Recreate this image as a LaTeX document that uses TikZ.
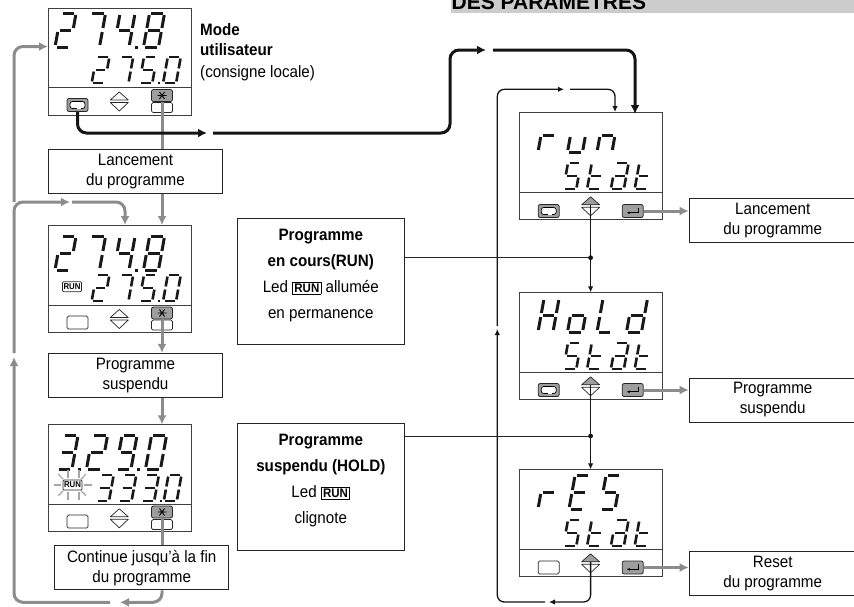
\documentclass[tikz,border=0pt]{standalone}
\usepackage{fontspec}
\setmainfont[FakeStretch=0.92]{Liberation Sans}
\newfontfamily\headfont{Liberation Sans}
\usetikzlibrary{arrows.meta,calc}

% ===== seven-segment glyphs =====
\def\segA{\draw (.12,2) -- (.88,2);}
\def\segB{\draw (1,1.88) -- (1,1.12);}
\def\segC{\draw (1,.88) -- (1,.12);}
\def\segD{\draw (.12,0) -- (.88,0);}
\def\segE{\draw (0,.12) -- (0,.88);}
\def\segF{\draw (0,1.12) -- (0,1.88);}
\def\segG{\draw (.12,1) -- (.88,1);}
\def\segP{\draw (1.42,0) -- (1.58,0);}
\newcommand{\defchr}[2]{\expandafter\def\csname lcdchr#1\endcsname{#2}}
\defchr{0}{A,B,C,D,E,F}
\defchr{2}{A,B,G,E,D}
\defchr{3}{A,B,G,C,D}
\defchr{3p}{A,B,G,C,D,P}
\defchr{4p}{F,G,B,C,P}
\defchr{5p}{A,F,G,C,D,P}
\defchr{7}{A,B,C}
\defchr{8}{A,B,C,D,E,F,G}
\defchr{9p}{A,B,C,D,F,G,P}
\defchr{r}{E,G}
\defchr{u}{E,D,C}
\defchr{n}{E,G,C}
\defchr{S}{A,F,G,C,D}
\defchr{t}{F,G,E,D}
\defchr{a}{A,B,G,E,C,D}
\defchr{H}{F,E,G,B,C}
\defchr{o}{G,C,D,E}
\defchr{L}{F,E,D}
\defchr{d}{B,C,D,E,G}
\defchr{E}{A,F,G,E,D}
% left, baseline, width, height, spacing, thickness, characters
\newcommand{\lcdrow}[7]{%
  \foreach \ch [count=\i from 0] in {#7}{%
    \begin{scope}[shift={(#1+\i*#5,#2)},x=1pt,y=1pt,xslant=.18,xscale=#3,yscale=#4/2,
        line width=#6pt,black!90]
      \edef\seglist{\csname lcdchr\ch\endcsname}
      \foreach \sg in \seglist {\csname seg\sg\endcsname}
    \end{scope}}}
% ===== panel body with separator and up/down keys =====
\newcommand{\lcdbody}[4]{%
  \node[lcd,anchor=north west] (#1) at (#2,#3) {};
  \draw[lcdline] ($(#1.north west)+(0,80)$) -- ($(#1.north east)+(0,80)$);
  \coordinate (#1up) at ($(#1.north west)+(71.3,92.5)$);
  \filldraw[tri,fill=#4] ($(#1up)+(-9,0)$) -- ($(#1up)+(0,-8)$) -- ($(#1up)+(9,0)$) -- cycle;
  \draw[tri] ($(#1up)+(-9,2.5)$) -- ($(#1up)+(0,11)$) -- ($(#1up)+(9,2.5)$) -- cycle;
}
\newcommand{\backglyph}[1]{\draw[glyph,fill=white,rounded corners=2.5pt] ($(#1.center)+(-7.5,-3.5)$) rectangle ($(#1.center)+(7.5,3.5)$);
  \draw[glyph,white,line width=1.5pt] ($(#1.center)+(-1,3.5)$) -- ($(#1.center)+(3,3.5)$);}
\newcommand{\enterglyph}[1]{\draw[glyph,->,>={Latex[length=3pt,width=3pt]}] ($(#1.center)+(6,-3.5)$) -- ($(#1.center)+(6,1.8)$) -- ($(#1.center)+(-6,1.8)$);}
\newcommand{\starglyph}[1]{\draw[glyph,line width=.9pt] ($(#1.center)+(-4.5,0)$) -- ($(#1.center)+(4.5,0)$)
  ($(#1.center)+(-2.5,-3.5)$) -- ($(#1.center)+(2.5,3.5)$) ($(#1.center)+(2.5,-3.5)$) -- ($(#1.center)+(-2.5,3.5)$);}
\newcommand{\ledrun}{{\fboxsep=1.2pt\fboxrule=.9pt\fbox{\bfseries\fontsize{12.5}{12}\selectfont RUN}}}

\begin{document}
\begin{tikzpicture}[x=1pt,y=-1pt,
    font=\fontsize{16.5}{20}\selectfont,
    lcd/.style={draw=black!75,line width=.9pt,minimum width=142.5pt,minimum height=107pt,inner sep=0pt},
    lcdline/.style={draw=black!75,line width=.8pt},
    tri/.style={draw=black!85,line width=.7pt,line join=round},
    keydark/.style={draw=black!85,fill=black!38,line width=.8pt,rounded corners=2pt,minimum width=21pt,minimum height=13pt,inner sep=0pt},
    keyslot/.style={draw=black!85,fill=white,line width=.7pt,rounded corners=1.5pt,minimum width=21pt,minimum height=10pt,inner sep=0pt},
    keywide/.style={keyslot,minimum height=13pt},
    glyph/.style={draw=black,line width=.7pt},
    prbox/.style={draw=black!85,line width=1pt,minimum width=174.5pt,minimum height=44pt,align=center,inner sep=0pt},
    infobox/.style={draw=black!85,line width=1pt,minimum width=167pt,inner sep=0pt},
    infotxt/.style={align=center,font=\fontsize{16.5}{25.8}\selectfont},
    greywire/.style={draw=black!45,line width=3pt,rounded corners=9pt,-{Latex[length=9pt,width=9pt]}},
    boldwire/.style={draw=black!92,line width=3pt,rounded corners=9pt,-{Latex[length=9pt,width=9pt]}},
    thinwire/.style={draw=black!92,line width=1.3pt,rounded corners=7pt,-{Latex[length=6pt,width=5.5pt]}},
    hairwire/.style={draw=black!85,line width=.7pt},
    ledtag/.style={draw=black!85,line width=.7pt,rounded corners=1pt,minimum width=19pt,minimum height=10pt,inner sep=0pt,font=\bfseries\fontsize{8.5}{8}\selectfont}]
\clip (0,0) rectangle (854,606);
\useasboundingbox (0,0) rectangle (854,606);
% ===== heading strip =====
\fill[black!20] (451,-5) rectangle (854,12.7);
\node[anchor=base west,inner sep=0pt,font=\headfont\bfseries\fontsize{21}{21}\selectfont] (headtxt) at (451.5,9.5) {DES PARAMETRES};
% ===== left column of panels =====
\lcdbody{dA}{48}{7.5}{white}
\lcdrow{55}{47}{15}{34}{29.5}{3}{2,7,4p,8}
\lcdrow{91.7}{83}{13}{26}{23.8}{2.6}{2,7,5p,0}
\node[keydark] (dAback) at (77.5,105) {};
\backglyph{dAback}
\node[keydark,minimum height=12pt] (dAstar) at (162,95.5) {};
\starglyph{dAstar}
\node[keyslot] (dAslot) at (162,107.5) {};
\lcdbody{dB}{48}{225}{white}
\lcdrow{55}{270}{15}{34}{29.5}{3}{2,7,4p,8}
\lcdrow{91.7}{301}{13}{26}{23.8}{2.6}{2,7,5p,0}
\node[ledtag] (dBled) at (72,286.7) {RUN};
\node[keywide] (dBback) at (77.5,322.5) {};
\node[keydark,minimum height=12pt] (dBstar) at (162,313) {};
\starglyph{dBstar}
\node[keyslot] (dBslot) at (162,325) {};
\lcdbody{dC}{48}{424.3}{white}
\lcdrow{57}{469}{15}{34}{29.5}{3}{3p,2,9p,0}
\lcdrow{96}{501}{13}{26}{22.6}{2.6}{3,3,3p,0}
\node[ledtag] (dCled) at (72.5,485) {RUN};
\foreach \ax/\ay/\bx/\by in {53.5/485/61/485,84/485/92/485,58.3/474/63.3/479.3,86/474/81/479.3,
    58.3/495.7/63.3/490.7,86/495.7/81/490.7,68/470/68/478,79/470/79/478,68/492/68/500,79/492/79/500}
  \draw[black!35,line width=1.2pt] (\ax,\ay) -- (\bx,\by);
\node[keywide] (dCback) at (77.5,521.5) {};
\node[keydark,minimum height=12pt] (dCstar) at (162,512) {};
\starglyph{dCstar}
\node[keyslot] (dCslot) at (162,524.5) {};
% ===== right column of panels =====
\lcdbody{drun}{519.3}{112.3}{black!38}
\lcdrow{538}{152}{15}{34}{29.5}{3}{r,u,n}
\lcdrow{563.3}{189}{13}{26}{23.8}{2.6}{S,t,a,t}
\node[keydark] (drunback) at (548.7,211) {};
\backglyph{drunback}
\node[keydark] (drunok) at (632.7,211) {};
\enterglyph{drunok}
\lcdbody{dhold}{519.3}{292.3}{black!38}
\lcdrow{538}{332}{15}{34}{29.5}{3}{H,o,L,d}
\lcdrow{563.3}{369}{13}{26}{23.8}{2.6}{S,t,a,t}
\node[keydark] (dholdback) at (548.7,390) {};
\backglyph{dholdback}
\node[keydark] (dholdok) at (632.7,390) {};
\enterglyph{dholdok}
\lcdbody{dres}{519.3}{469.3}{black!38}
\lcdrow{538}{509}{15}{34}{31}{3}{r,E,S}
\lcdrow{563.3}{546}{13}{26}{23.8}{2.6}{S,t,a,t}
\node[keywide] (dresback) at (548.7,567.5) {};
\node[keydark] (dresok) at (632.7,567.5) {};
\enterglyph{dresok}
% ===== captions and boxes =====
\node[anchor=west,inner sep=0pt,align=left] (modetxt) at (200,52) {\textbf{Mode}\\\textbf{utilisateur}\\[2pt](consigne locale)};
\node[prbox] (blaunch) at (135.5,171.3) {Lancement\\du programme};
\node[prbox] (bhold) at (135.5,375.3) {Programme\\suspendu};
\node[prbox] (bcont) at (141.7,567.9) {Continue jusqu'à la fin\\du programme};
\node[prbox,minimum width=167pt] (rlaunch) at (772.7,220.5) {Lancement\\du programme};
\node[prbox,minimum width=167pt] (rhold) at (772.7,400) {Programme\\suspendu};
\node[prbox,minimum width=167pt] (rreset) at (772.7,573.3) {Reset\\du programme};
\node[infobox,minimum height=126.5pt] (prun) at (320.8,281.6) {};
\node[infotxt] (pruntxt) at (320.8,275.5) {\textbf{Programme}\\\textbf{en cours(RUN)}\\Led \ledrun\ allumée\\en permanence};
\node[infobox,minimum height=127pt] (phold) at (320.8,486.5) {};
\node[infotxt] (pholdtxt) at (320.8,480.5) {\textbf{Programme}\\\textbf{suspendu (HOLD)}\\Led \ledrun\\clignote};
% ===== grey sequence, star key to star key =====
\draw[greywire,-] (dAstar.south) -- (dAstar.south |- blaunch.north);
\draw[greywire] (dAstar.south |- blaunch.south) -- (dAstar.south |- dB.north);
\draw[greywire] (dBstar.south) -- (dBstar.south |- bhold.north);
\draw[greywire] (dBstar.south |- bhold.south) -- (dBstar.south |- dC.north);
\draw[greywire,-] (dCstar.south) -- (dCstar.south |- bcont.north);
% ===== grey return loop =====
\coordinate (loopA) at (120,602.3);
\coordinate (loopB) at (110,602.3);
\coordinate (loopC) at (14,357);
\coordinate (loopD) at (14,353);
\coordinate (loopE) at (70,202);
\coordinate (loopF) at (72,202);
\coordinate (loopG) at (125,202);
\coordinate (loopH) at (14,46.5);
\draw[greywire] (bcont.south -| dCstar.center) |- (loopA);
\draw[greywire] (loopB) -| (loopC);
\draw[greywire] (loopD) |- (loopE);
\draw[greywire] (loopF) -| (loopG |- dB.north);
\draw[greywire] (loopD |- loopE) |- (dA.west |- loopH);
% ===== black route to the status panels =====
\coordinate (boldA) at (207,133);
\coordinate (boldB) at (213,133);
\coordinate (boldC) at (450,133);
\coordinate (boldD) at (450,50);
\coordinate (boldE) at (486,50);
\coordinate (boldF) at (493,50);
\coordinate (boldG) at (635,114);
\draw[boldwire] (dAback.south) |- (boldA);
\draw[boldwire] (boldB) -- (boldC) -- (boldD) -- (boldE);
\draw[boldwire] (boldF) -| (boldG);
% ===== status panels: thin wires =====
\coordinate (thinA) at (549,602);
\coordinate (thinB) at (545,602);
\coordinate (thinC) at (497.3,329);
\coordinate (thinD) at (497.3,326);
\coordinate (thinE) at (564,89.3);
\coordinate (thinF) at (570,89.3);
\coordinate (thinG) at (615,112);
\draw[thinwire] (drunup) -- (drunup |- dhold.north);
\draw[thinwire] (dholdup) -- (dholdup |- dres.north);
\draw[thinwire] (dresup) |- (thinA);
\draw[thinwire] (thinB) -| (thinC);
\draw[thinwire] (thinD) |- (thinE);
\draw[thinwire] (thinF) -| (thinG);
% ===== tie lines from the state boxes =====
\coordinate (tieA) at (590.6,257.7);
\coordinate (tieB) at (590.6,436);
\draw[hairwire] (tieA -| prun.east) -- (tieA);
\draw[hairwire] (tieB -| phold.east) -- (tieB);
\fill[black!92] (tieA) circle (2.4pt);
\fill[black!92] (tieB) circle (2.4pt);
% ===== enter keys to their boxes =====
\draw[greywire,rounded corners=0pt] (drunok.east) -- (drunok.east -| rlaunch.west);
\draw[greywire,rounded corners=0pt] (dholdok.east) -- (dholdok.east -| rhold.west);
\draw[greywire,rounded corners=0pt] (dresok.east) -- (dresok.east -| rreset.west);
\end{tikzpicture}
\end{document}
